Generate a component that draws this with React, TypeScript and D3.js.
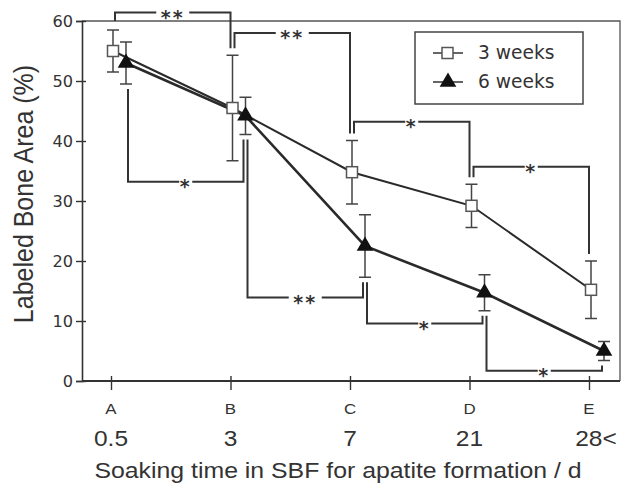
import React, { useEffect, useRef } from "react";
import * as d3 from "d3";

const categories = ["A", "B", "C", "D", "E"];
const dayLabels = ["0.5", "3", "7", "21", "28<"];
const yTicks = [0, 10, 20, 30, 40, 50, 60];

// labeled bone area (%) and error (±)
const weeks3 = [55.0, 45.5, 34.8, 29.2, 15.2];
const weeks3Err = [3.5, 8.8, 5.3, 3.6, 4.8];
const weeks6 = [53.0, 44.2, 22.5, 14.7, 5.0];
const weeks6Err = [3.5, 3.1, 5.2, 3.0, 1.6];

// significance brackets (level in % units)
const topBrackets = [
  { from: 0, to: 1, label: "**", level: 61.4 },
  { from: 1, to: 2, label: "**", level: 58.0 },
  { from: 2, to: 3, label: "*", level: 43.2 },
  { from: 3, to: 4, label: "*", level: 35.7 },
];
const bottomBrackets = [
  { from: 0, to: 1, label: "*", level: 33.2 },
  { from: 1, to: 2, label: "**", level: 13.9 },
  { from: 2, to: 3, label: "*", level: 9.6 },
  { from: 3, to: 4, label: "*", level: 1.7 },
];

const SX = 1.09; // the picture is a bit wider than tall

export default function App() {
  const svgRef = useRef<SVGSVGElement | null>(null);

  useEffect(() => {
    if (!svgRef.current) return;
    const svg = d3.select(svgRef.current);
    svg.selectAll("*").remove();

    const width = 623;
    const height = 484;
    const left = 82;
    const right = 620;
    const ink = "#333";

    const x = d3.scalePoint<string>().domain(categories).range([111, 589]);
    const y = d3.scaleLinear().domain([0, 60]).range([381, 21]);
    const off3 = 2;
    const off6 = 15;
    const sansC = "'DejaVu Sans Condensed', 'DejaVu Sans', sans-serif";
    const sans = "'Liberation Sans', Arial, sans-serif";

    svg.append("rect").attr("width", width).attr("height", height).attr("fill", "#fff");

    // frame
    svg
      .append("path")
      .attr("d", `M${left},${y(60)}H${right}V${y(0)}`)
      .attr("fill", "none")
      .attr("stroke", "#555")
      .attr("stroke-width", 1.3);

    // y axis
    const yAxis = svg
      .append("g")
      .attr("transform", `translate(${left},0)`)
      .call(d3.axisLeft(y).tickValues(yTicks).tickSize(6).tickFormat(() => ""));
    yAxis.select(".domain").attr("stroke", ink).attr("stroke-width", 1.6);
    yAxis.selectAll(".tick line").attr("stroke", ink).attr("stroke-width", 1.4).attr("x1", 4);

    yTicks.forEach((t) => {
      svg
        .append("text")
        .attr("transform", `translate(73,${y(t)}) scale(${SX},1)`)
        .attr("text-anchor", "end")
        .attr("dominant-baseline", "central")
        .attr("font-family", sansC)
        .attr("font-size", 16.5)
        .attr("fill", ink)
        .text(t);
    });

    // x axis
    const xAxis = svg
      .append("g")
      .attr("transform", `translate(0,${y(0)})`)
      .call(d3.axisBottom(x).tickSize(9).tickFormat(() => ""));
    xAxis.select(".domain").attr("d", `M${left},0H${right}`).attr("stroke", ink).attr("stroke-width", 2);
    xAxis.selectAll(".tick line").attr("stroke", ink).attr("stroke-width", 1.4).attr("y1", -5);

    categories.forEach((c, i) => {
      svg
        .append("text")
        .attr("transform", `translate(${x(c)},414) scale(${SX},1)`)
        .attr("text-anchor", "middle")
        .attr("font-family", sans)
        .attr("font-size", 15.5)
        .attr("fill", ink)
        .text(c);
      svg
        .append("text")
        .attr("transform", `translate(${(x(c) as number) + (i === 4 ? 7 : 0)},446) scale(${SX},1)`)
        .attr("text-anchor", "middle")
        .attr("font-family", sans)
        .attr("font-size", 22.5)
        .attr("fill", ink)
        .text(dayLabels[i]);
    });

    svg
      .append("text")
      .attr("transform", `translate(338,478) scale(${SX},1)`)
      .attr("text-anchor", "middle")
      .attr("font-family", sans)
      .attr("font-size", 22.8)
      .attr("fill", ink)
      .text("Soaking time in SBF for apatite formation / d");

    svg
      .append("text")
      .attr("transform", `translate(24,194) scale(${SX},1) rotate(-90)`)
      .attr("text-anchor", "middle")
      .attr("dominant-baseline", "central")
      .attr("font-family", sans)
      .attr("font-size", 25)
      .attr("fill", ink)
      .text("Labeled Bone Area (%)");

    // brackets
    const drawBracket = (
      b: { from: number; to: number; label: string; level: number },
      vals: number[],
      errs: number[],
      off: number,
      up: boolean
    ) => {
      const gap = up ? 7 : 5;
      const x1 = (x(categories[b.from]) as number) + off + 2;
      const x2 = (x(categories[b.to]) as number) + off - 2;
      const yl = y(b.level);
      const endY = (i: number) => {
        if (up && i === 0) return y(60);
        return up ? y(vals[i] + errs[i]) - gap : y(vals[i] - errs[i]) + gap;
      };
      const mid = (x1 + x2) / 2;
      const half = b.label.length * 10 - 3.5;
      const g = svg.append("g").attr("fill", "none").attr("stroke", ink).attr("stroke-width", 2);
      g.append("path").attr("d", `M${x1},${endY(b.from)}V${yl}H${mid - half}`);
      g.append("path").attr("d", `M${mid + half},${yl}H${x2}V${endY(b.to)}`);
      const fs = 19;
      svg
        .append("text")
        .attr("x", mid)
        .attr("y", yl + fs * 0.6)
        .attr("text-anchor", "middle")
        .attr("font-family", "'DejaVu Sans', sans-serif")
        .attr("font-weight", "bold")
        .attr("font-size", fs)
        .attr("letter-spacing", 2)
        .attr("fill", ink)
        .text(b.label);
    };
    topBrackets.forEach((b) => drawBracket(b, weeks3, weeks3Err, off3, true));
    bottomBrackets.forEach((b) => drawBracket(b, weeks6, weeks6Err, off6, false));

    // series
    const series = [
      { vals: weeks3, errs: weeks3Err, off: off3, width: 2 },
      { vals: weeks6, errs: weeks6Err, off: off6, width: 2.6 },
    ];

    series.forEach((s) => {
      const px = (i: number) => (x(categories[i]) as number) + s.off;
      // error bars
      const eg = svg.append("g").attr("stroke", "#444").attr("stroke-width", 1.5).attr("fill", "none");
      s.vals.forEach((v, i) => {
        const t = y(v + s.errs[i]);
        const bt = y(v - s.errs[i]);
        eg.append("path").attr("d", `M${px(i)},${t}V${bt}M${px(i) - 6},${t}H${px(i) + 6}M${px(i) - 6},${bt}H${px(i) + 6}`);
      });
      const line = d3
        .line<number>()
        .x((_, i) => px(i))
        .y((d) => y(d));
      svg
        .append("path")
        .datum(s.vals)
        .attr("d", line)
        .attr("fill", "none")
        .attr("stroke", "#2a2a2a")
        .attr("stroke-width", s.width);
    });

    // markers on top
    weeks3.forEach((v, i) => {
      svg
        .append("rect")
        .attr("x", (x(categories[i]) as number) + off3 - 5.5)
        .attr("y", y(v) - 5.5)
        .attr("width", 11)
        .attr("height", 11)
        .attr("fill", "#fff")
        .attr("stroke", "#555")
        .attr("stroke-width", 1.5);
    });
    const tri = d3.symbol().type(d3.symbolTriangle).size(120);
    weeks6.forEach((v, i) => {
      svg
        .append("path")
        .attr("d", tri)
        .attr("transform", `translate(${(x(categories[i]) as number) + off6},${y(v)})`)
        .attr("fill", "#111");
    });

    // legend
    const lg = svg.append("g");
    lg.append("rect")
      .attr("x", 415)
      .attr("y", 32)
      .attr("width", 168)
      .attr("height", 72)
      .attr("fill", "#fff")
      .attr("stroke", "#444")
      .attr("stroke-width", 1.5);
    [
      { label: "3 weeks", yy: 53, square: true },
      { label: "6 weeks", yy: 82, square: false },
    ].forEach((e) => {
      lg.append("line")
        .attr("x1", 433)
        .attr("x2", 463)
        .attr("y1", e.yy)
        .attr("y2", e.yy)
        .attr("stroke", "#333")
        .attr("stroke-width", 1.5);
      if (e.square) {
        lg.append("rect")
          .attr("x", 442)
          .attr("y", e.yy - 5.5)
          .attr("width", 11)
          .attr("height", 11)
          .attr("fill", "#fff")
          .attr("stroke", "#555")
          .attr("stroke-width", 1.5);
      } else {
        lg.append("path").attr("d", tri).attr("transform", `translate(448,${e.yy})`).attr("fill", "#111");
      }
      lg.append("text")
        .attr("transform", `translate(478,${e.yy}) scale(${SX},1)`)
        .attr("dominant-baseline", "central")
        .attr("font-family", sansC)
        .attr("font-size", 19)
        .attr("fill", ink)
        .text(e.label);
    });
  }, []);

  return (
    <svg
      ref={svgRef}
      width={623}
      height={484}
      style={{ position: "absolute", left: 0, top: 0, display: "block" }}
    />
  );
}
